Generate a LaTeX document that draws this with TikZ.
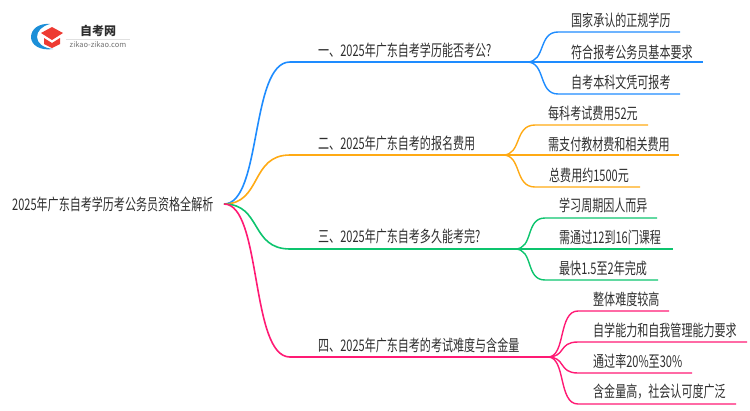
\documentclass[tikz,border=0pt]{standalone}
\usepackage{fontspec}
\newfontfamily\cjk[FakeStretch=0.69]{Noto Sans CJK SC}
\newfontfamily\logofont{Noto Sans CJK SC}
\definecolor{lineblue}{HTML}{1E8CFF}
\definecolor{lineorange}{HTML}{FFAA14}
\definecolor{linegreen}{HTML}{0DC46E}
\definecolor{linepink}{HTML}{FF1A74}
\definecolor{logoblue}{HTML}{1C8FD8}
\definecolor{logored}{HTML}{EE3B33}
\definecolor{textgrey}{HTML}{2E2E2E}
\tikzset{
	label/.style = {
		anchor = west,
		inner sep = 0pt,
		text = textgrey,
		font = \cjk\fontsize{16}{16}\selectfont
	},
	branch/.style = {
		line width = 1.6pt
	},
	twig/.style = {
		line width = 1.4pt
	}
}
\begin{document}
\begin{tikzpicture}[x=1pt,y=-1pt]
		\useasboundingbox (0,0) rectangle (750,410);

		% logo
		\fill[logoblue] (50,24) .. controls (39,23) and (31,29) .. (31,37) .. controls (31,45) and (40,51) .. (53,49) .. controls (43,48) and (37,43) .. (37,37) .. controls (37,31) and (42,26) .. (50,24) -- cycle;
		\fill[logored] (52,27) -- (63,33) -- (52,40) -- (41,33) -- cycle;
		\fill[logored] (44,38) -- (52,43) -- (60,38) -- (60,44) -- (52,48) -- (44,44) -- cycle;
		\node[inner sep=0pt, text=textgrey, font=\logofont\bfseries\fontsize{12}{12}\selectfont] (logotitle) at (98,31) {自考网};
		\node[inner sep=0pt, text=black!55, font=\logofont\fontsize{7.5}{8}\selectfont] (logourl) at (98,45) {zikao-zikao.com};
		\draw[black!12, line width=.6pt] (66,39) -- (130,39);

		% root and junctions
		\node[label] (root) at (12,204) {2025年广东自考学历考公务员资格全解析};
		\coordinate (R) at (224,204);
		\coordinate (B1) at (290,62);  \coordinate (J1) at (527,62);
		\coordinate (B2) at (290,155); \coordinate (J2) at (503,155);
		\coordinate (B3) at (290,249); \coordinate (J3) at (515,249);
		\coordinate (B4) at (290,357); \coordinate (J4) at (548,357);

		% first branch
		\draw[branch, lineblue] (R) .. controls (262,204) and (250,62) .. (B1) -- (J1);
		\node[label] (b1) at (318,50) {一、2025年广东自考学历能否考公?};
		\node[label] (a1) at (571,20) {国家承认的正规学历};
		\node[label] (a2) at (571,52) {符合报考公务员基本要求};
		\node[label] (a3) at (571,82) {自考本科文凭可报考};
		\draw[twig, lineblue] (J1) .. controls (546,62) and (538,32) .. (558,32) -- (680,32);
		\draw[twig, lineblue] (J1) -- (703,62);
		\draw[twig, lineblue] (J1) .. controls (546,62) and (538,94) .. (558,94) -- (680,94);

		% second branch
		\draw[branch, lineorange] (R) .. controls (262,204) and (250,155) .. (B2) -- (J2);
		\node[label] (b2) at (318,143) {二、2025年广东自考的报名费用};
		\node[label] (c1) at (548,113) {每科考试费用52元};
		\node[label] (c2) at (548,144) {需支付教材费和相关费用};
		\node[label] (c3) at (549,175) {总费用约1500元};
		\draw[twig, lineorange] (J2) .. controls (522,155) and (514,125) .. (535,125) -- (648,125);
		\draw[twig, lineorange] (J2) -- (679,155);
		\draw[twig, lineorange] (J2) .. controls (522,155) and (514,187) .. (535,187) -- (640,187);

		% third branch
		\draw[branch, linegreen] (R) .. controls (262,204) and (250,249) .. (B3) -- (J3);
		\node[label] (b3) at (318,236) {三、2025年广东自考多久能考完?};
		\node[label] (d1) at (559,205) {学习周期因人而异};
		\node[label] (d2) at (559,237) {需通过12到16门课程};
		\node[label] (d3) at (559,268) {最快1.5至2年完成};
		\draw[twig, linegreen] (J3) .. controls (534,249) and (525,218) .. (545,218) -- (657,218);
		\draw[twig, linegreen] (J3) -- (673,249);
		\draw[twig, linegreen] (J3) .. controls (534,249) and (525,280) .. (545,280) -- (658,280);

		% fourth branch
		\draw[branch, linepink] (R) .. controls (262,204) and (250,357) .. (B4) -- (J4);
		\node[label] (b4) at (318,345) {四、2025年广东自考的考试难度与含金量};
		\node[label] (e1) at (593,299) {整体难度较高};
		\node[label] (e2) at (593,330) {自学能力和自我管理能力要求};
		\node[label] (e3) at (593,361) {通过率20\%至30\%};
		\node[label] (e4) at (593,392) {含金量高，社会认可度广泛};
		\draw[twig, linepink] (J4) .. controls (566,357) and (558,311) .. (578,311) -- (669,311);
		\draw[twig, linepink] (J4) .. controls (566,357) and (558,342) .. (578,342) -- (747,342);
		\draw[twig, linepink] (J4) .. controls (566,357) and (558,373) .. (578,373) -- (692,373);
		\draw[twig, linepink] (J4) .. controls (566,357) and (558,404) .. (578,404) -- (736,404);

	\end{tikzpicture}
\end{document}
